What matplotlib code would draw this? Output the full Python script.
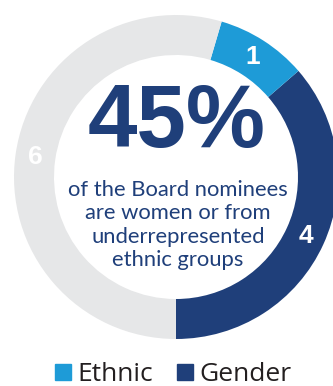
import matplotlib.pyplot as plt
from matplotlib.patches import Patch

# ------------------------------------------------------------------
# Dados
# ------------------------------------------------------------------
categorias = ["Gender", "Ethnic", "Other"]
valores = [4, 1, 6]
cores = ["#1f3f7a", "#1e9bd7", "#e6e7e8"]
destaque = "45%"
subtitulo = "of the Board nominees\nare women or from\nunderrepresented\nethnic groups"
legenda = ["Ethnic", "Gender"]

AZUL = "#1f3f7a"
W, H = 333, 386

fig = plt.figure(figsize=(W / 100, H / 100), dpi=100)
ax = fig.add_axes([0, 0, 1, 1])

total = sum(valores)
cx, cy, raio = 176, H - 177, 162

ax.pie(
    valores,
    colors=cores,
    startangle=-90,
    counterclock=True,
    center=(cx, cy),
    radius=raio,
    wedgeprops=dict(width=40, linewidth=0),
    autopct=lambda p: f"{round(p * total / 100)}",
    pctdistance=0.88,
    textprops=dict(color="white", fontsize=19, fontweight="bold",
                   family="Liberation Sans"),
    frame=True,
)

ax.set_xlim(0, W)
ax.set_ylim(0, H)
ax.set_aspect("equal")
ax.axis("off")

# texto central
ax.text(177, H - 124, destaque, ha="center", va="center", color=AZUL,
        fontsize=64, fontweight="bold", family="Liberation Sans")
ax.text(178, H - 225, subtitulo, ha="center", va="center", color=AZUL,
        fontsize=15.8, family="Lato", linespacing=1.2)

# legenda
handles = [Patch(color=cores[1]), Patch(color=cores[0])]
fig.legend(handles, legenda, loc="lower center", bbox_to_anchor=(0.52, -0.065),
           ncol=2, frameon=False, handlelength=0.6, handleheight=0.6,
           handletextpad=0.25, columnspacing=0.9,
           prop=dict(family="Open Sans", size=19), labelcolor="#231f20")

fig.savefig("out.png", dpi=100)
